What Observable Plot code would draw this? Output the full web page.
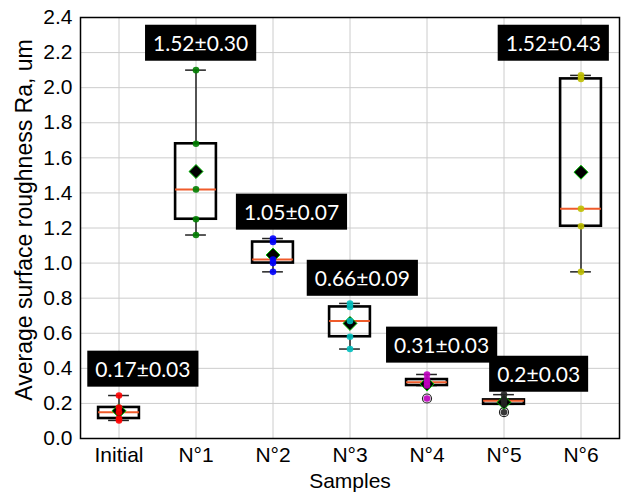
<!DOCTYPE html>
<html><head><meta charset="utf-8">
<script src="https://cdn.jsdelivr.net/npm/d3@7"></script>
<script src="https://cdn.jsdelivr.net/npm/@observablehq/plot@0.6"></script>
<style>body{margin:0;background:#fff}</style>
</head><body><div id="chart"></div>
<script>
const samples = ["Initial", "N°1", "N°2", "N°3", "N°4", "N°5", "N°6"];
const values = [
  [0.245, 0.177, 0.15, 0.114, 0.103],
  [2.10, 1.68, 1.42, 1.25, 1.16],
  [1.14, 1.12, 1.02, 1.00, 0.95],
  [0.77, 0.75, 0.67, 0.58, 0.51],
  [0.365, 0.336, 0.32, 0.302, 0.228],
  [0.25, 0.22, 0.215, 0.195, 0.15],
  [2.07, 2.05, 1.31, 1.21, 0.95]
];
const pointColors = ["#ff0000", "#008000", "#0000ff", "#00bfbf", "#bf00bf", "#222222", "#bfbf00"];
const labels = ["0.17±0.03", "1.52±0.30", "1.05±0.07", "0.66±0.09", "0.31±0.03", "0.2±0.03", "1.52±0.43"];
const labelX = [0.31, 1.06, 2.24, 3.16, 4.19, 5.45, 5.64];
const labelY = [0.388, 2.246, 1.283, 0.906, 0.525, 0.359, 2.246];
const yTicks = [0, 0.2, 0.4, 0.6, 0.8, 1.0, 1.2, 1.4, 1.6, 1.8, 2.0, 2.2, 2.4];
const xTicks = [0, 1, 2, 3, 4, 5, 6];

// statistics (matplotlib-style boxplot)
const stats = values.map((arr, i) => {
  const v = arr.slice().sort(d3.ascending);
  const q1 = d3.quantile(v, 0.25), med = d3.quantile(v, 0.5), q3 = d3.quantile(v, 0.75);
  const iqr = q3 - q1;
  const lo = d3.min(v.filter(d => d >= q1 - 1.5 * iqr));
  const hi = d3.max(v.filter(d => d <= q3 + 1.5 * iqr));
  const outliers = v.filter(d => d < lo || d > hi);
  return {i, q1, med, q3, lo, hi, mean: d3.mean(v), outliers};
});
const points = values.flatMap((arr, i) => arr.map(v => ({i, v, color: pointColors[i]})));
const fliers = stats.flatMap(s => s.outliers.map(v => ({i: s.i, v})));
const labelData = labels.map((t, i) => ({t, x: labelX[i], y: labelY[i]}));

const BW = 0.265, CW = 0.135;
const plot = Plot.plot({
  width: 622,
  height: 495,
  marginLeft: 80,
  marginRight: 3,
  marginTop: 17,
  marginBottom: 57,
  style: {fontFamily: "'Liberation Sans', Arial, sans-serif", color: "#000", background: "#fff"},
  x: {domain: [-0.5, 6.5]},
  y: {domain: [0, 2.4]},
  color: {type: "identity"},
  marks: [
    Plot.gridY({ticks: yTicks, stroke: "#cccccc", strokeOpacity: 1}),
    Plot.gridX({ticks: xTicks, stroke: "#cccccc", strokeOpacity: 1}),
    Plot.axisY({ticks: yTicks, tickFormat: d => d.toFixed(1), tickSize: 0, tickPadding: 8, fontSize: 21, label: null}),
    Plot.axisX({ticks: xTicks, tickFormat: i => samples[i], tickSize: 0, tickPadding: 9, fontSize: 21, label: null}),
    Plot.text(["Average surface roughness Ra, um"], {frameAnchor: "left", textAnchor: "middle", dx: -56, dy: -8, rotate: -90, fontSize: 23, fill: "#000"}),
    Plot.text(["Samples"], {frameAnchor: "bottom", textAnchor: "middle", dy: 49, fontSize: 21, fill: "#000"}),
    // whiskers
    Plot.ruleX(stats, {x: "i", y1: "q3", y2: "hi", stroke: "#222", strokeWidth: 1.5}),
    Plot.ruleX(stats, {x: "i", y1: "lo", y2: "q1", stroke: "#222", strokeWidth: 1.5}),
    // caps
    Plot.ruleY(stats, {y: "hi", x1: d => d.i - CW, x2: d => d.i + CW, stroke: "#222", strokeWidth: 1.5}),
    Plot.ruleY(stats, {y: "lo", x1: d => d.i - CW, x2: d => d.i + CW, stroke: "#222", strokeWidth: 1.5}),
    // box
    Plot.rect(stats, {x1: d => d.i - BW, x2: d => d.i + BW, y1: "q1", y2: "q3", fill: "none", stroke: "black", strokeWidth: 2.6}),
    // median
    Plot.ruleY(stats, {y: "med", x1: d => d.i - BW, x2: d => d.i + BW, stroke: "#ef5b2b", strokeWidth: 2}),
    // fliers
    Plot.dot(fliers, {x: "i", y: "v", r: 4.5, stroke: "#222", strokeWidth: 1.2, fill: "none"}),
    // mean
    Plot.dot(stats, {x: "i", y: "mean", symbol: "diamond2", r: 6.3, fill: "black", stroke: "#00c000", strokeWidth: 1}),
    // points
    Plot.dot(points, {x: "i", y: "v", r: 3.3, fill: "color", fillOpacity: 0.9, stroke: "none"}),
    Plot.frame({stroke: "black", strokeWidth: 1.5}),
    Plot.text(labelData, {x: "x", y: "y", text: "t", fill: "white", fontSize: 21, fontFamily: "Lato, 'Open Sans', sans-serif", textAnchor: "middle", lineAnchor: "middle"})
  ]
});
document.getElementById("chart").append(plot);

// black label boxes behind value labels
Array.from(plot.querySelectorAll("text"))
  .filter(t => labels.includes(t.textContent))
  .forEach(t => {
    const b = t.getBBox();
    const r = document.createElementNS("http://www.w3.org/2000/svg", "rect");
    const padX = 8, h = 36;
    const cy = b.y + b.height / 2;
    r.setAttribute("x", b.x - padX);
    r.setAttribute("y", cy - h / 2);
    r.setAttribute("width", b.width + 2 * padX);
    r.setAttribute("height", h);
    r.setAttribute("fill", "black");
    const tr = t.getAttribute("transform");
    if (tr) r.setAttribute("transform", tr);
    t.parentNode.insertBefore(r, t);
  });
</script>
</body></html>
